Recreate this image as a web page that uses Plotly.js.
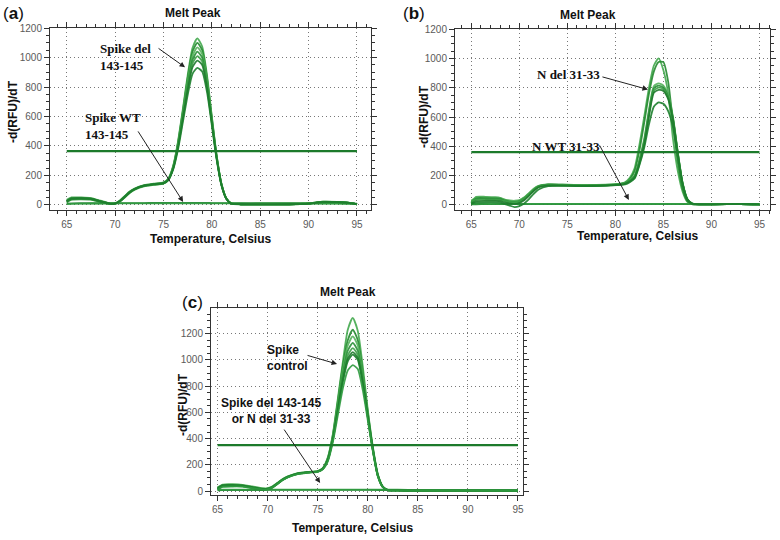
<!DOCTYPE html>
<html>
<head>
<meta charset="utf-8">
<script src="https://cdn.plot.ly/plotly-3.0.1.min.js"></script>
<style>html,body{margin:0;padding:0;background:#fff}#chart{width:780px;height:540px}</style>
</head>
<body>
<div id="chart"></div>
<script>
// ---------- Panel (a): Spike del 143-145 ----------
const tempA = [65, 65.5, 66.5, 67.5, 68.5, 69.5, 70, 70.5, 71, 71.5, 72, 73, 74, 75, 75.5, 76, 76.5, 77, 77.5, 78, 78.5, 79, 79.5, 80, 80.5, 81, 81.5, 82, 83, 85, 88, 90, 91.5, 93, 94.5, 95];
const a1 = [20, 45, 47, 44, 25, 8, 10, 28, 58, 88, 108, 132, 142, 150, 178, 265, 430, 650, 880, 1065, 1130, 1075, 880, 600, 335, 142, 45, 10, 4, 3, 4, 10, 22, 20, 12, 3];
const a2 = [25, 40, 42, 40, 22, 6, 8, 25, 55, 85, 105, 128, 138, 146, 172, 258, 420, 635, 860, 1040, 1100, 1050, 860, 590, 330, 140, 44, 10, 4, 3, 4, 9, 20, 19, 11, 3];
const a3 = [30, 38, 40, 38, 20, 5, 7, 22, 50, 80, 102, 126, 136, 144, 170, 252, 410, 620, 840, 1010, 1070, 1025, 845, 580, 325, 138, 43, 9, 4, 3, 4, 9, 20, 18, 11, 3];
const a4 = [15, 35, 38, 35, 18, 5, 8, 24, 52, 82, 104, 128, 138, 145, 168, 248, 400, 605, 815, 985, 1040, 1000, 825, 570, 320, 136, 42, 9, 4, 3, 4, 8, 19, 18, 10, 3];
const a5 = [35, 50, 50, 46, 28, 10, 12, 30, 60, 90, 110, 134, 144, 152, 175, 255, 405, 600, 800, 960, 1010, 975, 810, 565, 318, 135, 42, 9, 4, 3, 4, 9, 21, 19, 11, 3];
const a6 = [22, 42, 44, 41, 24, 7, 9, 26, 54, 84, 106, 130, 140, 148, 170, 245, 390, 585, 780, 935, 980, 950, 795, 555, 315, 134, 41, 9, 4, 3, 4, 8, 20, 18, 10, 3];
const a7 = [28, 44, 46, 42, 23, 8, 10, 27, 56, 86, 107, 131, 141, 149, 170, 240, 375, 560, 745, 890, 930, 905, 765, 540, 305, 130, 40, 8, 4, 3, 4, 8, 20, 18, 10, 3];
const aWT1 = [8, 10, 11, 11, 11, 12, 12, 12, 12, 12, 12, 12, 13, 13, 13, 13, 13, 13, 13, 13, 13, 13, 13, 12, 12, 12, 12, 12, 12, 11, 11, 11, 11, 10, 9, 8];
const aWT2 = [5, 7, 8, 9, 9, 9, 9, 10, 10, 10, 10, 10, 10, 10, 10, 10, 10, 10, 10, 10, 10, 10, 10, 10, 10, 10, 10, 10, 9, 9, 9, 9, 9, 8, 7, 6];
const threshA = 365;

// ---------- Panel (b): N del 31-33 ----------
const tempB = [65, 65.5, 66.5, 67.5, 68, 68.5, 69, 69.5, 70, 70.5, 71, 71.5, 72, 73, 75, 77, 79, 80.5, 81, 81.5, 82, 82.5, 83, 83.5, 84, 84.5, 85, 85.5, 86, 86.5, 87, 87.5, 88, 90, 93, 95];
const b1 = [15, 55, 55, 52, 48, 35, 28, 25, 30, 50, 80, 110, 130, 140, 138, 135, 138, 145, 155, 185, 250, 410, 600, 800, 950, 1000, 920, 760, 450, 230, 90, 20, 5, 4, 6, 4];
const b2 = [10, 40, 42, 40, 38, 25, 15, 10, 20, 40, 70, 100, 125, 140, 137, 134, 136, 142, 150, 175, 230, 370, 560, 760, 910, 975, 975, 840, 560, 290, 110, 25, 5, 4, 6, 4];
const b3 = [30, 50, 50, 48, 45, 35, 30, 28, 32, 50, 78, 108, 128, 138, 136, 133, 136, 145, 150, 170, 200, 310, 450, 650, 810, 830, 815, 750, 600, 360, 150, 40, 8, 4, 6, 4];
const b4 = [20, 45, 46, 44, 42, 30, 22, 20, 25, 45, 72, 104, 126, 136, 134, 131, 134, 142, 148, 166, 195, 300, 435, 635, 795, 815, 800, 740, 590, 355, 148, 38, 8, 4, 6, 4];
const b5 = [25, 35, 36, 35, 33, 25, 20, 18, 22, 42, 70, 100, 124, 135, 133, 130, 133, 140, 146, 163, 190, 290, 420, 620, 780, 800, 790, 730, 585, 350, 146, 37, 8, 4, 6, 4];
const b6 = [5, 25, 28, 27, 25, 15, 8, 5, 12, 32, 62, 95, 120, 132, 131, 129, 132, 138, 144, 160, 186, 280, 410, 605, 765, 785, 778, 722, 580, 348, 145, 37, 8, 4, 6, 4];
const b7 = [8, 15, 18, 18, 16, 5, -5, -15, -8, 10, 40, 75, 105, 128, 130, 128, 131, 136, 140, 155, 180, 270, 390, 550, 670, 700, 690, 640, 530, 330, 140, 35, 7, 4, 6, 4];
const bWT1 = [3, 4, 5, 5, 5, 5, 5, 5, 5, 5, 5, 5, 5, 5, 5, 5, 5, 5, 5, 5, 5, 5, 5, 5, 5, 5, 5, 5, 5, 5, 5, 5, 5, 5, 5, 4];
const bWT2 = [6, 7, 7, 7, 7, 7, 7, 7, 7, 7, 7, 7, 7, 7, 7, 7, 7, 7, 7, 7, 7, 7, 7, 7, 7, 7, 7, 7, 7, 7, 7, 7, 7, 7, 6, 5];
const threshB = 360;

// ---------- Panel (c): Spike control ----------
const tempC = [65, 65.5, 66.5, 67.5, 68.5, 69.5, 70, 70.5, 71, 71.5, 72, 73, 74, 75, 75.5, 76, 76.5, 77, 77.5, 78, 78.5, 79, 79.5, 80, 80.5, 81, 81.5, 82, 83, 85, 88, 90, 91.5, 93, 94.5, 95];
const c1 = [15, 45, 48, 45, 28, 15, 18, 35, 62, 90, 110, 135, 145, 152, 175, 255, 430, 700, 980, 1230, 1320, 1220, 950, 620, 340, 130, 35, 8, 5, 4, 4, 4, 4, 4, 4, 3];
const c2 = [20, 40, 44, 42, 26, 14, 16, 32, 60, 88, 108, 133, 143, 150, 172, 250, 420, 680, 950, 1150, 1230, 1150, 900, 600, 330, 125, 33, 8, 5, 4, 4, 4, 4, 4, 4, 3];
const c3 = [25, 50, 52, 48, 35, 22, 22, 36, 64, 92, 112, 136, 146, 153, 172, 245, 410, 660, 920, 1110, 1180, 1110, 880, 590, 325, 123, 32, 8, 5, 4, 4, 4, 4, 4, 4, 3];
const c4 = [10, 35, 38, 36, 22, 10, 12, 28, 56, 84, 106, 132, 142, 149, 170, 240, 400, 640, 890, 1070, 1130, 1070, 860, 580, 320, 120, 32, 8, 5, 4, 4, 4, 4, 4, 4, 3];
const c5 = [30, 42, 45, 42, 30, 18, 18, 33, 60, 88, 108, 133, 143, 150, 170, 238, 395, 625, 865, 1035, 1090, 1040, 840, 570, 318, 118, 31, 8, 5, 4, 4, 4, 4, 4, 4, 3];
const c6 = [18, 38, 40, 38, 25, 12, 14, 30, 58, 86, 106, 131, 141, 148, 168, 235, 390, 615, 845, 1010, 1060, 1015, 825, 565, 315, 117, 31, 8, 5, 4, 4, 4, 4, 4, 4, 3];
const c7 = [22, 46, 47, 44, 30, 17, 18, 33, 61, 89, 109, 134, 144, 151, 170, 232, 385, 605, 830, 990, 1040, 1000, 815, 560, 313, 116, 30, 8, 5, 4, 4, 4, 4, 4, 4, 3];
const c8 = [12, 32, 35, 34, 22, 11, 13, 29, 56, 84, 104, 130, 140, 147, 166, 225, 370, 575, 780, 920, 960, 930, 770, 540, 305, 112, 30, 8, 5, 4, 4, 4, 4, 4, 4, 3];
const cWT1 = [5, 7, 8, 8, 8, 8, 9, 9, 9, 9, 9, 9, 9, 9, 9, 9, 9, 9, 9, 9, 9, 9, 9, 9, 9, 8, 8, 8, 8, 8, 7, 7, 7, 7, 6, 5];
const cWT2 = [8, 10, 11, 11, 11, 11, 11, 11, 11, 11, 11, 11, 11, 11, 11, 11, 11, 11, 11, 11, 11, 11, 11, 11, 10, 10, 10, 10, 10, 9, 9, 9, 8, 8, 7, 6];
const threshC = 350;

const xTicks = [65, 70, 75, 80, 85, 90, 95];
const yTicks = [0, 200, 400, 600, 800, 1000, 1200];

// ---------- build ----------
const greens = ['#1d7f2d', '#2f9a3f', '#43a84e', '#24892f', '#55b35c', '#2a9038', '#3ca046', '#1f7a2c'];
const traces = [];
function addCurves(temp, list, xa, ya) {
  list.forEach((ys, i) => {
    traces.push({x: temp, y: ys, xaxis: xa, yaxis: ya, type: 'scatter', mode: 'lines',
      line: {color: greens[i % greens.length], width: 1.8, shape: 'spline', smoothing: 0.6},
      opacity: 0.9, hoverinfo: 'skip', showlegend: false});
  });
}
function addThresh(val, xa, ya) {
  traces.push({x: [xTicks[0], xTicks[xTicks.length - 1]], y: [val, val], xaxis: xa, yaxis: ya,
    type: 'scatter', mode: 'lines', line: {color: '#1c7a2b', width: 2.2}, hoverinfo: 'skip', showlegend: false});
}
addCurves(tempA, [aWT1, aWT2, a1, a2, a3, a4, a5, a6, a7], 'x', 'y');
addThresh(threshA, 'x', 'y');
addCurves(tempB, [bWT1, bWT2, b1, b2, b3, b4, b5, b6, b7], 'x2', 'y2');
addThresh(threshB, 'x2', 'y2');
addCurves(tempC, [cWT1, cWT2, c1, c2, c3, c4, c5, c6, c7, c8], 'x3', 'y3');
addThresh(threshC, 'x3', 'y3');

const W = 780, H = 540;
const PX = v => v / W, PY = v => 1 - v / H;
const tickFont = {family: 'Liberation Sans, Arial, sans-serif', size: 10, color: '#5a5a5a'};

function xax(d0, d1, r, anchor) {
  return {domain: [PX(d0), PX(d1)], range: r, anchor: anchor, tickmode: 'array', tickvals: xTicks,
    ticks: 'outside', ticklen: 5, tickcolor: '#333', showline: true, linecolor: '#333', linewidth: 1,
    mirror: 'allticks', showgrid: true, gridcolor: '#777', griddash: '1px,3px', gridwidth: 1, zeroline: false,
    minor: {tickmode: 'linear', tick0: 65, dtick: 1, ticks: 'outside', ticklen: 3, tickcolor: '#333', showgrid: false},
    tickfont: tickFont, fixedrange: true};
}
function yax(d0, d1, r, anchor) {
  return {domain: [PY(d1), PY(d0)], range: r, anchor: anchor, tickmode: 'array', tickvals: yTicks,
    ticks: 'outside', ticklen: 5, tickcolor: '#333', showline: true, linecolor: '#333', linewidth: 1,
    mirror: 'allticks', showgrid: true, gridcolor: '#777', griddash: '1px,3px', gridwidth: 1, zeroline: false,
    minor: {tickmode: 'linear', tick0: 0, dtick: 50, ticks: 'outside', ticklen: 3, tickcolor: '#333', showgrid: false},
    tickfont: tickFont, fixedrange: true};
}

const sans = 'Liberation Sans, Arial, sans-serif';
const serif = 'Liberation Serif, Times New Roman, serif';
function txt(text, x, y, opts) {
  return Object.assign({text: text, xref: 'paper', yref: 'paper', x: PX(x), y: PY(y), showarrow: false,
    xanchor: 'center', yanchor: 'middle', font: {family: sans, size: 12, color: '#111'}}, opts || {});
}
function arrow(xa, ya, hx, hy, ax, ay) {
  return {text: '', xref: xa, yref: ya, x: hx, y: hy, ax: ax, ay: ay, showarrow: true,
    arrowhead: 2, arrowsize: 1.1, arrowwidth: 1, arrowcolor: '#222', standoff: 0};
}

const annotations = [
  txt('(<b>a</b>)', 14, 14, {font: {family: sans, size: 17, color: '#111'}}),
  txt('(<b>b</b>)', 414, 14, {font: {family: sans, size: 17, color: '#111'}}),
  txt('(<b>c</b>)', 192, 302, {font: {family: sans, size: 17, color: '#111'}}),
  txt('<b>Melt Peak</b>', 193, 13),
  txt('<b>Melt Peak</b>', 588, 15),
  txt('<b>Melt Peak</b>', 348, 292),
  txt('<b>-d(RFU)/dT</b>', 13, 112, {textangle: -90}),
  txt('<b>-d(RFU)/dT</b>', 424, 116, {textangle: -90}),
  txt('<b>-d(RFU)/dT</b>', 183, 405, {textangle: -90}),
  txt('<b>Temperature, Celsius</b>', 210, 239),
  txt('<b>Temperature, Celsius</b>', 637, 236),
  txt('<b>Temperature, Celsius</b>', 352, 528),
  txt('<b>Spike del<br>143-145</b>', 98, 57, {xanchor: 'left', align: 'left', font: {family: serif, size: 13, color: '#111'}}),
  txt('<b>Spike WT<br>143-145</b>', 83, 126, {xanchor: 'left', align: 'left', font: {family: serif, size: 13, color: '#111'}}),
  txt('<b>N del 31-33</b>', 535, 75, {xanchor: 'left', font: {family: serif, size: 13, color: '#111'}}),
  txt('<b>N WT 31-33</b>', 530, 146, {xanchor: 'left', font: {family: serif, size: 13, color: '#111'}}),
  txt('<b>Spike<br>control</b>', 265, 358, {xanchor: 'left', align: 'left'}),
  txt('<b>Spike del 143-145<br>or N del 31-33</b>', 271, 411, {align: 'center'}),
  arrow('x', 'y', 77.23, 934, -28, -20),
  arrow('x', 'y', 77.03, 20, -46, -72),
  arrow('x2', 'y2', 83.39, 788, -47, -13),
  arrow('x2', 'y2', 81.4, 34, -30, -56),
  arrow('x3', 'y3', 76.93, 969, -31, -9),
  arrow('x3', 'y3', 75.24, 61, -37, -55)
];

const layout = {
  width: W, height: H, margin: {l: 0, r: 0, t: 0, b: 0},
  paper_bgcolor: '#ffffff', plot_bgcolor: '#ffffff', showlegend: false, hovermode: false,
  xaxis: xax(50, 371, [63.27, 96.45], 'y'),
  yaxis: yax(28, 210, [-35, 1201], 'x'),
  xaxis2: xax(455, 770, [63.3, 96.1], 'y2'),
  yaxis2: yax(29, 210, [-35, 1201], 'x2'),
  xaxis3: xax(211, 523, [64.34, 95.5], 'y3'),
  yaxis3: yax(308, 495, [-30, 1396], 'x3'),
  annotations: annotations
};

Plotly.newPlot('chart', traces, layout, {displayModeBar: false, staticPlot: true});
</script>
</body>
</html>
